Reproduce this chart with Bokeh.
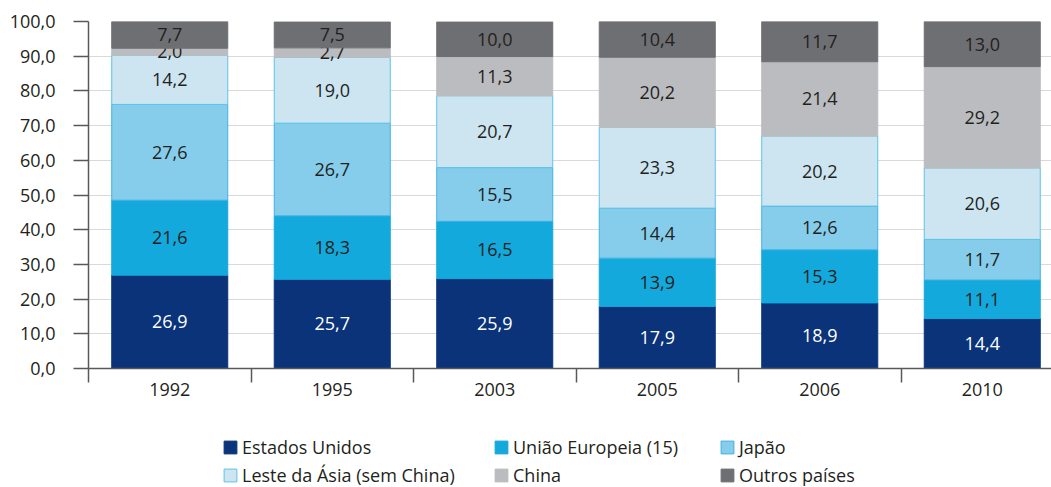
from bokeh.plotting import figure
from bokeh.layouts import column
from bokeh.models import Range1d, FixedTicker, ColumnDataSource, Legend, LegendItem
from bokeh.core.properties import value
from bokeh.embed import file_html
from bokeh.resources import INLINE

years = ["1992", "1995", "2003", "2005", "2006", "2010"]
estados_unidos = [26.9, 25.7, 25.9, 17.9, 18.9, 14.4]
uniao_europeia = [21.6, 18.3, 16.5, 13.9, 15.3, 11.1]
japao = [27.6, 26.7, 15.5, 14.4, 12.6, 11.7]
leste_asia = [14.2, 19.0, 20.7, 23.3, 20.2, 20.6]
china = [2.0, 2.7, 11.3, 20.2, 21.4, 29.2]
outros = [7.7, 7.5, 10.0, 10.4, 11.7, 13.0]

series_names = ["Estados Unidos", "União Europeia (15)", "Japão",
                "Leste da Ásia (sem China)", "China", "Outros países"]
series = [estados_unidos, uniao_europeia, japao, leste_asia, china, outros]
fills = ["#0a337a", "#13a9dc", "#86cdec", "#cde5f1", "#bbbcbf", "#6e6f72"]
lines = ["#0a337a", "#13a9dc", "#3fb2e3", "#5cc3ea", "#bbbcbf", "#6e6f72"]
text_colors = ["#ffffff", "#231f20", "#231f20", "#231f20", "#231f20", "#231f20"]

FONT = "Open Sans"
TXT = "#231f20"
FS = "18px"

p = figure(width=1051, height=420, output_backend="svg", toolbar_location=None,
           x_range=Range1d(0, 963 / 162.5), y_range=Range1d(0, 100),
           min_border_left=88, min_border_right=0, min_border_top=21,
           min_border_bottom=52)
p.outline_line_color = None
p.xgrid.visible = False
p.ygrid.grid_line_color = "#d9d9d9"
p.ygrid.grid_line_width = 1.2

xs = [i + 0.5 for i in range(len(years))]
bottom = [0.0] * len(years)
for name, vals, fc, lc, tc in zip(series_names, series, fills, lines, text_colors):
    top = [b + v for b, v in zip(bottom, vals)]
    src = ColumnDataSource(dict(x=xs, bottom=bottom, top=top,
                                mid=[(b + t) / 2 for b, t in zip(bottom, top)],
                                lab=[f"{v:.1f}".replace(".", ",") for v in vals]))
    p.vbar(x="x", bottom="bottom", top="top", width=0.714, source=src,
           fill_color=fc, line_color=lc, line_width=1)
    p.text(x="x", y="mid", text="lab", source=src, text_align="center",
           text_baseline="middle", text_font=value(FONT), text_font_size=FS,
           text_color=tc)
    bottom = top

yticks = list(range(0, 101, 10))
p.yaxis.ticker = FixedTicker(ticks=yticks)
p.yaxis.major_label_overrides = {t: f"{t:.1f}".replace(".", ",") for t in yticks}
p.yaxis.major_tick_in = 0
p.yaxis.major_tick_out = 15
p.yaxis.major_label_standoff = 18

p.xaxis.ticker = FixedTicker(ticks=xs, minor_ticks=list(range(len(years) + 1)))
p.xaxis.major_label_overrides = {x: y for x, y in zip(xs, years)}
p.xaxis.major_tick_in = 0
p.xaxis.major_tick_out = 0
p.xaxis.minor_tick_in = 0
p.xaxis.minor_tick_out = 14
p.xaxis.major_label_standoff = 0

for ax in (p.xaxis, p.yaxis):
    ax.axis_line_color = "#58595b"
    ax.axis_line_width = 1.5
    ax.major_tick_line_color = "#58595b"
    ax.major_tick_line_width = 1.5
    ax.minor_tick_line_width = 1.5
    ax.major_label_text_font = FONT
    ax.major_label_text_font_size = FS
    ax.major_label_text_color = TXT
p.xaxis.minor_tick_line_color = "#58595b"
p.yaxis.minor_tick_line_color = None

# legend panel
p2 = figure(width=1051, height=67, output_backend="svg", toolbar_location=None,
            x_range=Range1d(0, 1), y_range=Range1d(0, 1),
            x_axis_location=None, y_axis_location=None,
            min_border_left=88, min_border_right=0, min_border_top=0,
            min_border_bottom=0)
p2.outline_line_color = None
p2.grid.visible = False

items = []
for name, fc, lc in zip(series_names, fills, lines):
    r = p2.vbar(x=[0.5], bottom=[0], top=[0.1], width=0.1,
                fill_color=fc, line_color=lc, line_width=1)
    r.visible = False
    items.append(LegendItem(label=name, renderers=[r]))

col_x = [134, 405, 631]
for j, cx in enumerate(col_x):
    lg = Legend(items=[items[j], items[j + 3]], location=(cx, 0),
                orientation="vertical", border_line_color=None,
                background_fill_alpha=0, padding=0, margin=0, spacing=3,
                glyph_width=16, glyph_height=16, label_standoff=4,
                label_text_font=FONT, label_text_font_size=FS,
                label_text_color=TXT, label_height=25)
    p2.add_layout(lg, "center")

open("out.html", "w").write(file_html(column(p, p2, spacing=0), INLINE))
